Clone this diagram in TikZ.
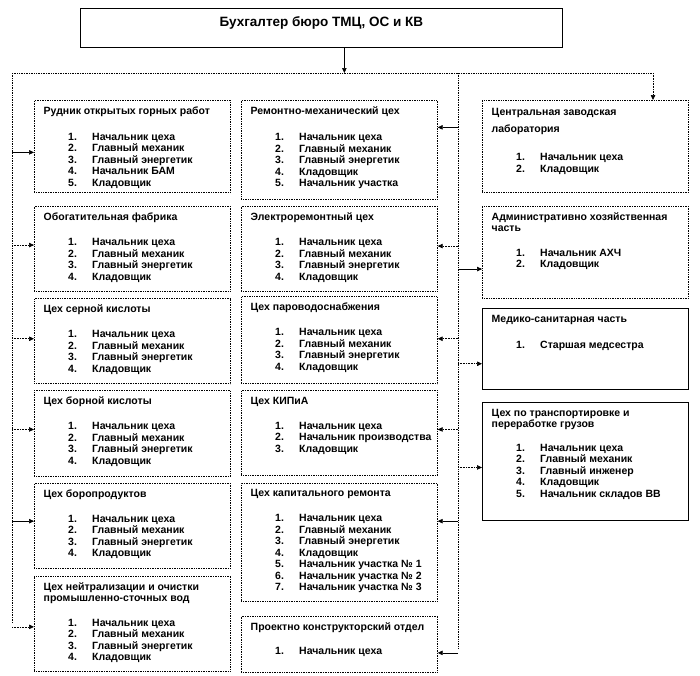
\documentclass[tikz,border=0pt]{standalone}
\usepackage{fontspec}
\setmainfont{Liberation Sans}
\usetikzlibrary{arrows.meta,positioning}
\newcommand{\itm}[2]{\hspace*{24.5pt}\makebox[24pt][l]{#1}#2}

\begin{document}
\begin{tikzpicture}[x=1pt, y=-1pt,
    font=\fontsize{10.5}{11.5}\selectfont\bfseries,
    unit/.style={draw, densely dotted, line width=0.7pt, anchor=north west, inner sep=0pt},
    full/.style={unit, solid},
    txt/.style={anchor=north west, align=left, inner xsep=9.5pt, inner ysep=6.5pt},
    link/.style={-{Triangle[length=5pt,width=4.5pt]}, line width=0.6pt},
    dlink/.style={link, densely dotted, line width=0.7pt},
    bus/.style={densely dotted, line width=0.7pt}]
    \useasboundingbox (0,0) rectangle (700,675);

    \node[full, minimum width=482pt, minimum height=39pt] (buh) at (80,8) {};
    \node[font=\fontsize{13.5}{15}\selectfont\bfseries] (buh-t) at ([yshift=4.5pt]buh.center) {Бухгалтер бюро ТМЦ, ОС и КВ};

    % left column
    \node[unit, minimum width=196pt, minimum height=92pt] (rudnik) at (34,100) {};
    \node[unit, minimum width=196pt, minimum height=85pt, below=13pt of rudnik.south west, anchor=north west] (obog) {};
    \node[unit, minimum width=196pt, minimum height=85pt, below=7pt of obog.south west, anchor=north west] (sern) {};
    \node[unit, minimum width=196pt, minimum height=86pt, below=6pt of sern.south west, anchor=north west] (born) {};
    \node[unit, minimum width=196pt, minimum height=85pt, below=6pt of born.south west, anchor=north west] (borpr) {};
    \node[unit, minimum width=196pt, minimum height=95pt, below=7pt of borpr.south west, anchor=north west] (neitr) {};

    \node[txt] (rudnik-t) at (rudnik.north west) {Рудник открытых горных работ\\[14.5pt]
        \itm{1.}{Начальник цеха}\\ \itm{2.}{Главный механик}\\ \itm{3.}{Главный энергетик}\\
        \itm{4.}{Начальник БАМ}\\ \itm{5.}{Кладовщик}};
    \node[txt] (obog-t) at (obog.north west) {Обогатительная фабрика\\[14pt]
        \itm{1.}{Начальник цеха}\\ \itm{2.}{Главный механик}\\ \itm{3.}{Главный энергетик}\\ \itm{4.}{Кладовщик}};
    \node[txt] (sern-t) at (sern.north west) {Цех серной кислоты\\[13.5pt]
        \itm{1.}{Начальник цеха}\\ \itm{2.}{Главный механик}\\ \itm{3.}{Главный энергетик}\\ \itm{4.}{Кладовщик}};
    \node[txt] (born-t) at (born.north west) {Цех борной кислоты\\[13.5pt]
        \itm{1.}{Начальник цеха}\\ \itm{2.}{Главный механик}\\ \itm{3.}{Главный энергетик}\\ \itm{4.}{Кладовщик}};
    \node[txt] (borpr-t) at (borpr.north west) {Цех боропродуктов\\[13.5pt]
        \itm{1.}{Начальник цеха}\\ \itm{2.}{Главный механик}\\ \itm{3.}{Главный энергетик}\\ \itm{4.}{Кладовщик}};
    \node[txt] (neitr-t) at (neitr.north west) {Цех нейтрализации и очистки\\ промышленно-сточных вод\\[13pt]
        \itm{1.}{Начальник цеха}\\ \itm{2.}{Главный механик}\\ \itm{3.}{Главный энергетик}\\ \itm{4.}{Кладовщик}};

    % middle column
    \node[unit, minimum width=196pt, minimum height=99pt] (remmech) at (241,100) {};
    \node[unit, minimum width=196pt, minimum height=85pt, below=6pt of remmech.south west, anchor=north west] (elrem) {};
    \node[unit, minimum width=196pt, minimum height=87pt, below=5pt of elrem.south west, anchor=north west] (parovod) {};
    \node[unit, minimum width=196pt, minimum height=85pt, below=6pt of parovod.south west, anchor=north west] (kipia) {};
    \node[unit, minimum width=196pt, minimum height=118pt, below=7pt of kipia.south west, anchor=north west] (kaprem) {};
    \node[unit, minimum width=196pt, minimum height=56pt, below=14pt of kaprem.south west, anchor=north west] (proekt) {};

    \node[txt] (remmech-t) at (remmech.north west) {Ремонтно-механический цех\\[14.5pt]
        \itm{1.}{Начальник цеха}\\ \itm{2.}{Главный механик}\\ \itm{3.}{Главный энергетик}\\
        \itm{4.}{Кладовщик}\\ \itm{5.}{Начальник участка}};
    \node[txt] (elrem-t) at (elrem.north west) {Электроремонтный цех\\[14pt]
        \itm{1.}{Начальник цеха}\\ \itm{2.}{Главный механик}\\ \itm{3.}{Главный энергетик}\\ \itm{4.}{Кладовщик}};
    \node[txt] (parovod-t) at (parovod.north west) {Цех пароводоснабжения\\[13.5pt]
        \itm{1.}{Начальник цеха}\\ \itm{2.}{Главный механик}\\ \itm{3.}{Главный энергетик}\\ \itm{4.}{Кладовщик}};
    \node[txt] (kipia-t) at (kipia.north west) {Цех КИПиА\\[13.5pt]
        \itm{1.}{Начальник цеха}\\ \itm{2.}{Начальник производства}\\ \itm{3.}{Кладовщик}};
    \node[txt] (kaprem-t) at (kaprem.north west) {Цех капитального ремонта\\[13.5pt]
        \itm{1.}{Начальник цеха}\\ \itm{2.}{Главный механик}\\ \itm{3.}{Главный энергетик}\\ \itm{4.}{Кладовщик}\\
        \itm{5.}{Начальник участка № 1}\\ \itm{6.}{Начальник участка № 2}\\ \itm{7.}{Начальник участка № 3}};
    \node[txt] (proekt-t) at (proekt.north west) {Проектно конструкторский отдел\\[13pt]
        \itm{1.}{Начальник цеха}};

    % right column
    \node[unit, minimum width=206pt, minimum height=92pt] (czl) at (482,100) {};
    \node[unit, minimum width=206pt, minimum height=92pt, below=13pt of czl.south west, anchor=north west] (ahch) {};
    \node[full, minimum width=206pt, minimum height=81pt, below=10pt of ahch.south west, anchor=north west] (medsan) {};
    \node[full, minimum width=206pt, minimum height=118pt, below=12pt of medsan.south west, anchor=north west] (transp) {};

    \node[txt, inner ysep=8.5pt] (czl-t) at (czl.north west) {Центральная заводская\\[5pt] лаборатория\\[17pt]
        \itm{1.}{Начальник цеха}\\ \itm{2.}{Кладовщик}};
    \node[txt] (ahch-t) at (ahch.north west) {Административно хозяйственная\\ часть\\[13pt]
        \itm{1.}{Начальник АХЧ}\\ \itm{2.}{Кладовщик}};
    \node[txt] (medsan-t) at (medsan.north west) {Медико-санитарная часть\\[15pt]
        \itm{1.}{Старшая медсестра}};
    \node[txt] (transp-t) at (transp.north west) {Цех по транспортировке и\\ переработке грузов\\[12pt]
        \itm{1.}{Начальник цеха}\\ \itm{2.}{Главный механик}\\ \itm{3.}{Главный инженер}\\
        \itm{4.}{Кладовщик}\\ \itm{5.}{Начальник складов ВВ}};

    % buses
    \coordinate (lbus) at (12,73);
    \coordinate (mbus) at (458,73);
    \coordinate (rbus) at (653,73);
    \coordinate (lend) at (12,623);
    \coordinate (mend) at (458,649);
    \draw[link] ([xshift=23pt]buh.south) -- ([xshift=23pt]buh.south |- lbus);
    \draw[bus] (lbus) -- (rbus);
    \draw[bus] (lbus) -- (lend);
    \draw[bus] (mbus) -- (mend);
    \draw[dlink] (rbus) -- (rbus |- czl.north);

    \draw[link] ([yshift=-6pt]rudnik.west -| lbus) -- ([yshift=-6pt]rudnik.west);
    \draw[dlink] ([yshift=3.5pt]obog.west -| lbus) -- ([yshift=3.5pt]obog.west);
    \draw[dlink] ([yshift=2.5pt]sern.west -| lbus) -- ([yshift=2.5pt]sern.west);
    \draw[dlink] ([yshift=4pt]born.west -| lbus) -- ([yshift=4pt]born.west);
    \draw[link] ([yshift=4.5pt]borpr.west -| lbus) -- ([yshift=4.5pt]borpr.west);
    \draw[dlink] ([yshift=-3.5pt]neitr.west -| lbus) -- ([yshift=-3.5pt]neitr.west);

    \draw[link] ([yshift=22.5pt]remmech.east -| mbus) -- ([yshift=22.5pt]remmech.east);
    \draw[dlink] ([yshift=2.5pt]elrem.east -| mbus) -- ([yshift=2.5pt]elrem.east);
    \draw[dlink] ([yshift=1.5pt]parovod.east -| mbus) -- ([yshift=1.5pt]parovod.east);
    \draw[dlink] ([yshift=3.5pt]kipia.east -| mbus) -- ([yshift=3.5pt]kipia.east);
    \draw[link] ([yshift=21pt]kaprem.east -| mbus) -- ([yshift=21pt]kaprem.east);
    \draw[link] ([yshift=-9pt]proekt.east -| mbus) -- ([yshift=-9pt]proekt.east);

    \draw[link] ([yshift=-17pt]ahch.west -| mbus) -- ([yshift=-17pt]ahch.west);
    \draw[dlink] ([yshift=-14.5pt]medsan.west -| mbus) -- ([yshift=-14.5pt]medsan.west);
    \draw[dlink] ([yshift=-6pt]transp.west -| mbus) -- ([yshift=-6pt]transp.west);
\end{tikzpicture}
\end{document}
